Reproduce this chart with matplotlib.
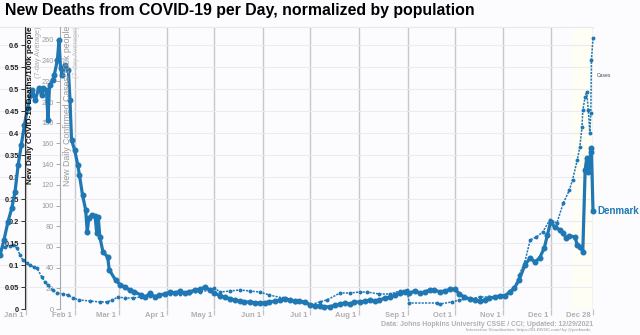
import matplotlib
matplotlib.use('Agg')
import matplotlib.pyplot as plt
import matplotlib.transforms as mtransforms

plt.rcParams['font.family'] = ['Liberation Sans', 'DejaVu Sans']

# day numbers counted from Jan 1 2021
death_days = [-16.5, -14, -11.5, -9, -7, -5, -3, -1, 1, 3, 4, 6, 8, 10, 11, 13, 14, 15, 17, 18,
              20, 21, 22, 23, 25, 27, 28, 29, 31, 33, 34, 36, 38, 39, 40, 42, 44, 45, 46, 47,
              49, 52, 53, 57, 60, 63, 66, 69, 73, 76, 79, 82, 85, 88.5, 92, 95, 98, 101, 104,
              107.5, 111, 114, 117, 120, 123.5, 127, 130, 133, 136, 139, 142.5, 146, 149, 152,
              155, 158.5, 162, 165, 168, 171, 174, 177.6, 181, 184, 187, 190, 193.5, 197, 200,
              203, 206, 209, 212.6, 216, 219, 222, 225, 228.5, 232, 235, 238, 241, 244, 247.6,
              251, 254, 257, 260, 263.5, 267, 270, 273, 276, 279, 282.6, 286, 289, 292, 295,
              298.5, 302, 305, 308, 311, 314, 317.6, 321, 324, 327, 330, 332, 334, 336.7, 340,
              342, 344, 346, 349.5, 351, 353, 354.5, 356, 357, 358, 359.6, 360, 361]
deaths = [0.123, 0.157, 0.198, 0.230, 0.266, 0.327, 0.373, 0.418, 0.457, 0.486, 0.498, 0.475,
          0.502, 0.486, 0.502, 0.498, 0.430, 0.509, 0.520, 0.532, 0.566, 0.611, 0.548, 0.532,
          0.555, 0.543, 0.475, 0.384, 0.361, 0.327, 0.305, 0.259, 0.225, 0.175, 0.207, 0.214,
          0.211, 0.173, 0.209, 0.164, 0.130, 0.118, 0.089, 0.066, 0.055, 0.050, 0.043, 0.039,
          0.032, 0.027, 0.036, 0.027, 0.032, 0.034, 0.039, 0.036, 0.041, 0.036, 0.039, 0.043,
          0.045, 0.050, 0.043, 0.036, 0.030, 0.027, 0.023, 0.020, 0.018, 0.016, 0.016, 0.014,
          0.014, 0.014, 0.016, 0.018, 0.020, 0.023, 0.020, 0.018, 0.018, 0.016, 0.009, 0.007,
          0.007, 0.005, 0.005, 0.009, 0.011, 0.014, 0.011, 0.016, 0.016, 0.018, 0.020, 0.018,
          0.020, 0.025, 0.027, 0.032, 0.036, 0.039, 0.036, 0.041, 0.036, 0.039, 0.043, 0.043,
          0.039, 0.041, 0.045, 0.045, 0.034, 0.027, 0.023, 0.020, 0.018, 0.020, 0.025, 0.027,
          0.030, 0.030, 0.039, 0.048, 0.066, 0.100, 0.116, 0.107, 0.116, 0.139, 0.168, 0.198,
          0.186, 0.180, 0.173, 0.161, 0.166, 0.164, 0.145, 0.141, 0.130, 0.316, 0.343, 0.311,
          0.357, 0.366, 0.223]

case_days = [-16.5, -13.4, -10.2, -8.3, -5.7, -3.8, -1.9, 0.6, 2.5, 5, 7, 10, 12, 14, 17, 20,
             23.5, 27, 30, 34, 41, 47, 51.5, 55, 58.6, 63, 68, 73, 79, 85, 92, 98, 104, 111,
             117, 120, 123.5, 130, 136, 142.6, 149, 155, 163.6, 171, 181, 187, 191.6, 200, 206,
             212.6, 217, 225, 232, 238, 242.5, 244, 261.6, 263.5, 271, 276, 282.6, 289, 295,
             302, 305, 308, 311, 314, 317.6, 321, 325, 329, 333.5, 338, 342, 346, 348, 351,
             352.6, 354, 354.5, 356, 357, 358, 359, 359.6, 360, 361]
cases = [57, 60, 61, 62, 59, 52, 47, 44, 42.5, 40.6, 39.6, 31, 26, 23, 18, 15.5, 14.5, 13.5,
         10.6, 8.7, 7.7, 6.8, 6.8, 8.7, 11.6, 10.6, 10.6, 11.6, 12.6, 13.5, 14.5, 14.5, 15.5,
         16.4, 18.4, 20.3, 16.4, 17.4, 18.4, 17.4, 16.4, 13.5, 10.6, 6.8, 3.9, 6.8, 8.7, 15.5,
         15.5, 16.4, 16.4, 14.5, 14.5, 17.4, 18.4, 5.8, 5.8, 4.8, 6.8, 8.7, 9.7, 11.6, 11.6,
         12.6, 12.6, 16.4, 20.3, 32.9, 45.4, 66.7, 69.6, 74.4, 86, 83, 102, 115, 125, 144,
         156.5, 176, 192, 205, 210, 192, 170, 189, 240.6, 262]

month_days = [0, 31, 59, 90, 120, 151, 181, 212, 243, 273, 304, 334, 361]
month_labels = ['Jan 1', 'Feb 1', 'Mar 1', 'Apr 1', 'May 1', 'Jun 1', 'Jul 1', 'Aug 1',
                'Sep 1', 'Oct 1', 'Nov 1', 'Dec 1', 'Dec 28']

blue = '#1f77b4'
bg = '#fcfcfe'

fig = plt.figure(figsize=(6.4, 3.35), dpi=100, facecolor=bg)
rect = [0, 26 / 335, 593 / 640, 282 / 335]

# background layer: grid, shading, x ticks
axg = fig.add_axes(rect, zorder=0)
axg.set_facecolor(bg)
axg.set_xlim(-16.55, 360.9)
axg.set_ylim(0, 0.641)
for s in ['left', 'right', 'bottom']:
    axg.spines[s].set_visible(False)
axg.spines['top'].set_color('#e8e8f0')
axg.set_yticks([i * 0.05 for i in range(13)])
axg.tick_params(axis='y', length=0, labelleft=False)
axg.grid(axis='y', color='#ebebf3', lw=0.8)
axg.set_xticks(month_days)
axg.set_xticklabels([])
axg.tick_params(axis='x', length=4, width=0.9, color='#c4c4c4')
for d in month_days:
    axg.axvline(d, color='#c8c8c8', lw=1.0, zorder=1)
axg.axvspan(347.5, 361, color='#fefef4', zorder=0.5)
trans = mtransforms.blended_transform_factory(axg.transData, axg.transAxes)
for d, lab in zip(month_days, month_labels):
    axg.text(d - 1.6, -0.012, lab, transform=trans, ha='right', va='top',
             fontsize=5.5, fontweight='bold', color='#b0b0b0')

# cases axis
axc = axg.twinx()
axc.set_zorder(1)
axc.set_ylim(0, 272.5)
axc.plot(case_days, cases, color=blue, lw=1.1, ls=(0, (1.4, 0.8)), marker='o', ms=1.8,
         clip_on=False)
for s in ['top', 'right', 'bottom']:
    axc.spines[s].set_visible(False)
axc.spines['left'].set_visible(True)
axc.spines['left'].set_position(('axes', 60 / 593))
axc.spines['left'].set_color('#a8a8a8')
axc.yaxis.tick_left()
axc.set_yticks(list(range(0, 261, 20)))
axc.tick_params(axis='y', length=3, width=0.7, color='#a8a8a8', labelcolor='#9a9a9a',
                labelsize=5.3, pad=1.5)
axc.tick_params(axis='x', length=0, labelbottom=False)
axc.annotate('Cases', xy=(361, 226), xytext=(3, 0), textcoords='offset points',
             fontsize=3.6, color='#34495e', va='center', annotation_clip=False)

# deaths axis
axd = axg.twinx()
axd.set_zorder(2)
axd.set_ylim(0, 0.641)
axd.plot(death_days, deaths, color=blue, lw=2.3, marker='o', ms=3.3, clip_on=False)
for s in ['top', 'right', 'bottom']:
    axd.spines[s].set_visible(False)
axd.spines['left'].set_visible(True)
axd.spines['left'].set_position(('axes', 25 / 593))
axd.spines['left'].set_color('#333333')
axd.yaxis.tick_left()
axd.set_yticks([i * 0.05 for i in range(13)])
axd.set_yticklabels(['0', '0.05', '0.1', '0.15', '0.2', '0.25', '0.3', '0.35', '0.4',
                     '0.45', '0.5', '0.55', '0.6'])
axd.tick_params(axis='y', length=3, width=0.7, color='#333333', labelcolor='#222222',
                labelsize=5.3, pad=1.5)
for t in axd.get_yticklabels():
    t.set_fontweight('bold')
axd.tick_params(axis='x', length=0, labelbottom=False)
axd.annotate('Denmark', xy=(361, deaths[-1]), xytext=(3.5, 0), textcoords='offset points',
             fontsize=7, fontweight='bold', color=blue, va='center', annotation_clip=False)

# axis titles
fig.text(30 / 640, 1 - 26 / 335, 'New Daily COVID-19 Deaths/100k people', rotation=90,
         ha='center', va='top', fontsize=5.9, fontweight='bold', color='#111111', zorder=5)
fig.text(39 / 640, 1 - 26 / 335, '(7-day Average)', rotation=90, ha='center', va='top',
         fontsize=5.2, color='#aaaaaa', zorder=5)
fig.text(67 / 640, 1 - 26 / 335, 'New Daily Confirmed Cases/100k people', rotation=90,
         ha='center', va='top', fontsize=6.3, color='#9a9a9a', zorder=5)
fig.text(77 / 640, 1 - 26 / 335, '(7-day Average)', rotation=90, ha='center', va='top',
         fontsize=5.2, color='#cccccc', zorder=5)

fig.text(5 / 640, 1 - 10 / 335, 'New Deaths from COVID-19 per Day, normalized by population',
         fontsize=11.4, fontweight='bold', va='center', ha='left')
fig.text(593 / 640, 1 - 324 / 335,
         'Data: Johns Hopkins University CSSE / CCI; Updated: 12/29/2021',
         fontsize=4.95, fontweight='bold', color='#b0b0b0', ha='right', va='center')
fig.text(593 / 640, 1 - 330.5 / 335,
         'Interactive Visualization: https://91-DIVOC.com/ by @profwade_',
         fontsize=3.1, fontweight='bold', color='#b0b0b0', ha='right', va='center')

fig.savefig('out.png', dpi=100, facecolor=bg)
